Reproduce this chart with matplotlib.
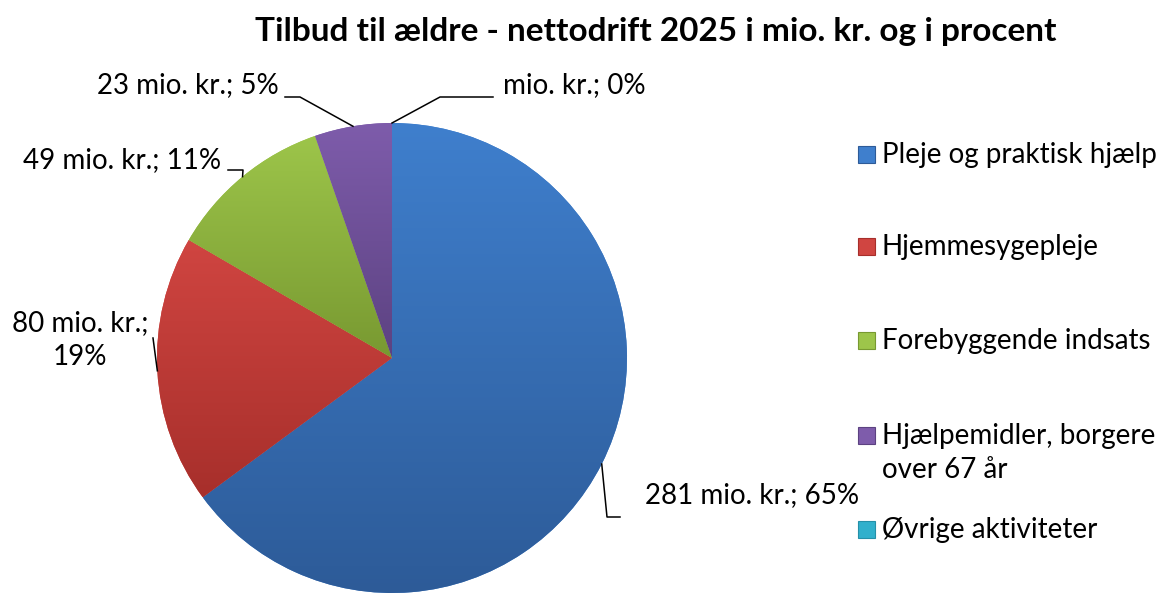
import numpy as np
import matplotlib
matplotlib.use("Agg")
import matplotlib.pyplot as plt
from matplotlib.patches import Rectangle
from matplotlib.colors import LinearSegmentedColormap

# chart data
categories = [
    "Pleje og praktisk hjælp",
    "Hjemmesygepleje",
    "Forebyggende indsats",
    "Hjælpemidler, borgere\nover 67 år",
    "Øvrige aktiviteter",
]
values = [281, 80, 49, 23, 0]
value_labels = [
    "281 mio. kr.; 65%",
    "80 mio. kr.;\n19%",
    "49 mio. kr.; 11%",
    "23 mio. kr.; 5%",
    "mio. kr.; 0%",
]
title = "Tilbud til ældre - nettodrift 2025 i mio. kr. og i procent"

top_colors = ["#3f7fcd", "#d04541", "#9dc54a", "#7e5cab", "#31b0cc"]
bottom_colors = ["#2d5b98", "#a72f2b", "#789931", "#5c4281", "#2590a8"]

W, H = 1161, 593
FONT = "Lato"
LINE_STEP = 34  # px between wrapped text lines

fig = plt.figure(figsize=(W / 100, H / 100), dpi=100)
ax = fig.add_axes([157 / W, 0, 470 / W, 470 / H])

wedges, _ = ax.pie(values, startangle=90, counterclock=False, radius=1,
                   colors=top_colors, wedgeprops=dict(linewidth=0))
ax.set_aspect("equal")
ax.axis("off")

# excel style vertical gradient in every slice
for w, c_top, c_bot in zip(wedges, top_colors, bottom_colors):
    if w.theta2 - w.theta1 <= 0:
        continue
    ext = w.get_path().get_extents()
    cmap = LinearSegmentedColormap.from_list("g", [c_bot, c_top])
    grad = np.linspace(0, 1, 256).reshape(-1, 1)
    im = ax.imshow(grad, cmap=cmap, origin="lower", aspect="auto",
                   extent=(ext.x0, ext.x1, ext.y0, ext.y1), zorder=2)
    im.set_clip_path(w)
ax.set_xlim(-1, 1)
ax.set_ylim(-1, 1)


def px(x, y):
    # pixel position -> data coords of the pie axes (centre 392,358; r 235)
    return (x - 392) / 235, (358 - y) / 235


# leader lines: bend points in pixels, first text line position, alignment
leaders = [
    dict(pts=[(607, 517), (620, 517)], text=(645, 495), ha="left"),
    dict(pts=[(153, 338)], text=(80, 323), ha="center"),
    dict(pts=[(243, 170), (228, 170)], text=(221, 160), ha="right"),
    dict(pts=[(300, 97), (285, 97)], text=(279, 85), ha="right"),
    dict(pts=[(440, 97), (493, 97)], text=(503, 85), ha="left"),
]

for w, lab, ld in zip(wedges, value_labels, leaders):
    mid = np.deg2rad((w.theta1 + w.theta2) / 2)
    xs = [np.cos(mid)] + [px(*p)[0] for p in ld["pts"]]
    ys = [np.sin(mid)] + [px(*p)[1] for p in ld["pts"]]
    ax.plot(xs, ys, color="black", lw=1.1, clip_on=False, zorder=3)
    x0, y0 = ld["text"]
    for i, line in enumerate(lab.split("\n")):
        tx, ty = px(x0, y0 + i * LINE_STEP)
        ax.text(tx, ty, line, ha=ld["ha"], va="center",
                fontsize=20, family=FONT, color="black")

# title
fig.text(656 / W, 1 - 32 / H, title, ha="center", va="center",
         fontsize=24, fontweight="bold", family=FONT)

# legend
legend_y = [155, 247, 341, 436, 530]
for cat, c_top, c_bot, y in zip(categories, top_colors, bottom_colors, legend_y):
    fig.patches.append(Rectangle((858 / W, 1 - (y + 8) / H), 17 / W, 17 / H,
                                 transform=fig.transFigure, facecolor=c_top,
                                 edgecolor=c_bot, lw=0.8))
    for i, line in enumerate(cat.split("\n")):
        fig.text(882 / W, 1 - (y + i * LINE_STEP) / H, line, ha="left",
                 va="center", fontsize=20, family=FONT)

fig.savefig("out.png", dpi=100)
